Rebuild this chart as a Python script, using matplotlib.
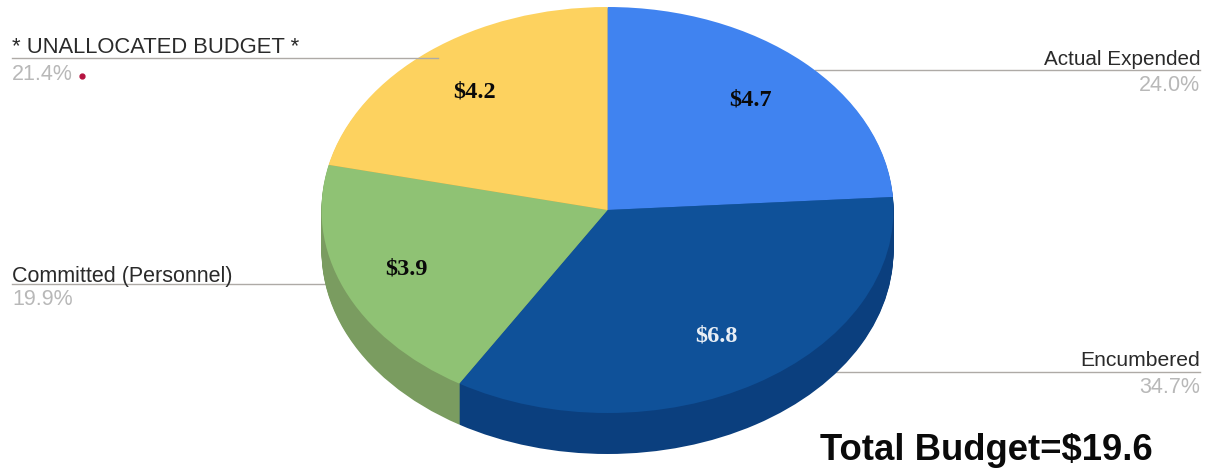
#!/usr/bin/python3
import matplotlib
matplotlib.use('Agg')
import matplotlib.pyplot as plt
from matplotlib.lines import Line2D

W, H = 1212, 469

categories = ['Actual Expended', 'Encumbered', 'Committed (Personnel)', '* UNALLOCATED BUDGET *']
amounts = [4.7, 6.8, 3.9, 4.2]
amount_labels = ['$4.7', '$6.8', '$3.9', '$4.2']
percent_labels = ['24.0%', '34.7%', '19.9%', '21.4%']
total_label = 'Total Budget=$19.6'

top_colors = ['#4083f0', '#0f5199', '#8fc274', '#fdd25f']
side_colors = ['#2a5fb0', '#0b3f7e', '#7a9c60', '#c9a040']

# pie centre and radii in pixels
cx, cy, rx, ry = 607.5, 210, 286, 203
depth = 41


def fx(px):
    return px / W


def fy(py):
    return 1 - py / H


fig = plt.figure(figsize=(W / 100, H / 100), dpi=100, facecolor='white')
ax = fig.add_axes([0, 0, 1, 1])


def leader(x0, x1, y, z=0):
    fig.add_artist(Line2D([fx(x0), fx(x1)], [fy(y), fy(y)], color='#aeaaa6', lw=1.0, zorder=z))


leader(12, 438, 58, z=2)
leader(815, 1200, 70)
leader(12, 330, 284)
leader(835, 1200, 372)

# stack the rim one pixel at a time so slice edges stay vertical on the wall
for d in range(depth, 0, -1):
    ax.pie(amounts, colors=side_colors, startangle=90, counterclock=False,
           center=(0, -d / ry), radius=1, wedgeprops={'lw': 0, 'clip_on': False})
ax.pie(amounts, colors=top_colors, startangle=90, counterclock=False,
       center=(0, 0), radius=1, wedgeprops={'lw': 0, 'clip_on': False})
ax.set_aspect('auto')
ax.set_xlim(-cx / rx, (W - cx) / rx)
ax.set_ylim((cy - H) / ry, cy / ry)
ax.patch.set_alpha(0)
ax.set_zorder(1)

sans = 'Liberation Sans'
serif = 'Liberation Serif'
name_color = '#2a2a2a'
pct_color = '#b8b8b8'
pct_size = 15.5
amount_size = 17.5

# category names and shares beside the leader lines
fig.text(fx(12), fy(53), categories[3], ha='left', va='baseline', family=sans, size=15.8, color=name_color, zorder=3)
fig.text(fx(12), fy(80), percent_labels[3], ha='left', va='baseline', family=sans, size=pct_size, color=pct_color, zorder=3)
fig.text(fx(1200), fy(65), categories[0], ha='right', va='baseline', family=sans, size=14.9, color=name_color, zorder=3)
fig.text(fx(1200), fy(91), percent_labels[0], ha='right', va='baseline', family=sans, size=pct_size, color=pct_color, zorder=3)
fig.text(fx(12), fy(282), categories[2], ha='left', va='baseline', family=sans, size=15.5, color=name_color, zorder=3)
fig.text(fx(12), fy(305), percent_labels[2], ha='left', va='baseline', family=sans, size=pct_size, color=pct_color, zorder=3)
fig.text(fx(1200), fy(366), categories[1], ha='right', va='baseline', family=sans, size=15.2, color=name_color, zorder=3)
fig.text(fx(1200), fy(393), percent_labels[1], ha='right', va='baseline', family=sans, size=pct_size, color=pct_color, zorder=3)

# dollar amounts on the slices
fig.text(fx(751), fy(100), amount_labels[0], ha='center', va='center', family=serif, weight='bold', size=amount_size, color='#0a0a0a', zorder=3)
fig.text(fx(716), fy(336), amount_labels[1], ha='center', va='center', family=serif, weight='bold', size=amount_size, color='#e8eef5', zorder=3)
fig.text(fx(406), fy(269), amount_labels[2], ha='center', va='center', family=serif, weight='bold', size=amount_size, color='#0a0a0a', zorder=3)
fig.text(fx(474), fy(92), amount_labels[3], ha='center', va='center', family=serif, weight='bold', size=amount_size, color='#0a0a0a', zorder=3)

fig.text(fx(820), fy(460), total_label, ha='left', va='baseline', family=sans, weight='bold', size=26.3, color='#0a0a0a', zorder=3)

# small red bullet after the unallocated share
fig.add_artist(Line2D([fx(82)], [fy(76)], marker='o', ms=3.5, color='#b5123f', lw=0, zorder=3))

fig.savefig('out.png', dpi=100)
